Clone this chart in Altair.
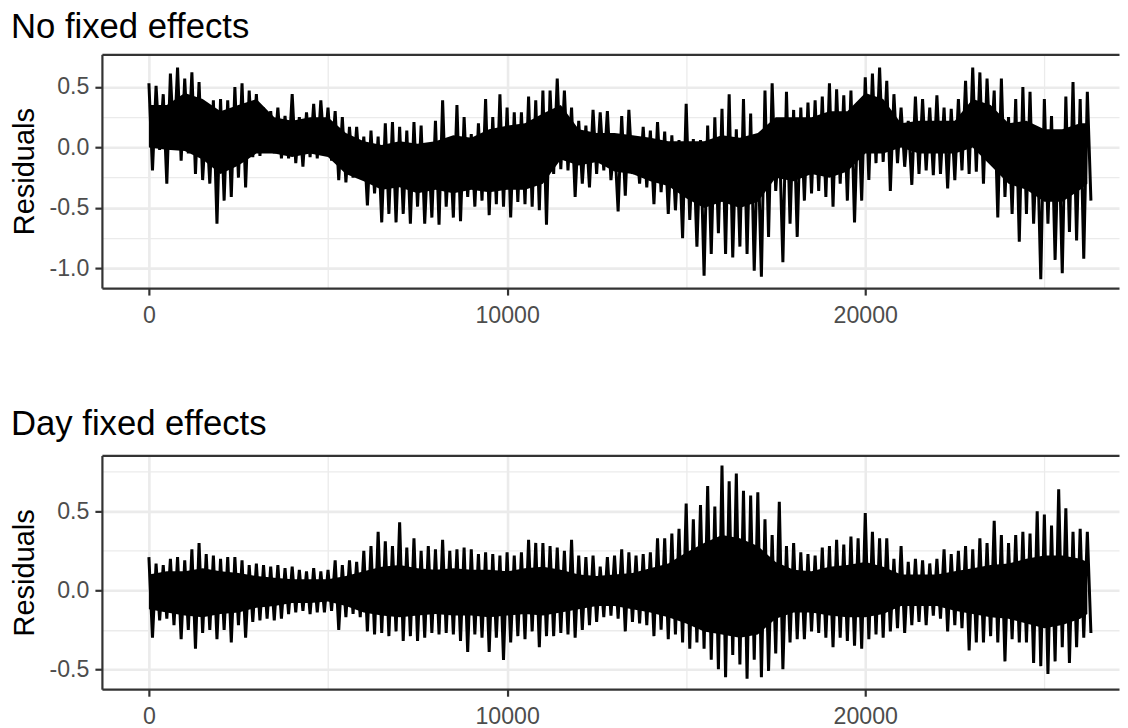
import altair as alt
import numpy as np
import pandas as pd

# Residual readings (upper / lower swing of the series), one pair every 200 observations
STEP = 100

p1_hi = [0.53, 0.51, 0.44, 0.61, 0.66, 0.57, 0.62, 0.54, 0.25, 0.39,
         0.40, 0.39, 0.50, 0.53, 0.47, 0.44, 0.33, 0.30, 0.33, 0.26,
         0.44, 0.25, 0.29, 0.36, 0.39, 0.33, 0.30, 0.25, 0.17, 0.17,
         0.09, 0.14, 0.09, 0.20, 0.21, 0.17, 0.14, 0.21, 0.18, 0.03,
         0.22, 0.39, 0.06, 0.35, 0.25, 0.11, 0.20, 0.40, 0.25, 0.44,
         0.33, 0.29, 0.29, 0.42, 0.39, 0.47, 0.47, 0.57, 0.47, 0.33,
         0.22, 0.18, 0.31, 0.29, 0.30, 0.06, 0.26, 0.31, 0.09, 0.17,
         0.14, 0.21, 0.13, 0.10, 0.06, 0.36, 0.07, 0.06, 0.18, 0.25,
         0.32, 0.44, 0.15, 0.40, 0.28, 0.06, 0.47, 0.53, 0.11, 0.46,
         0.31, 0.33, 0.37, 0.39, 0.42, 0.53, 0.48, 0.43, 0.47, 0.37,
         0.58, 0.61, 0.66, 0.55, 0.44, 0.33, 0.22, 0.42, 0.40, 0.33,
         0.43, 0.33, 0.32, 0.40, 0.55, 0.66, 0.62, 0.57, 0.47, 0.57,
         0.25, 0.40, 0.50, 0.46, 0.11, 0.40, 0.26, 0.14, 0.42, 0.54,
         0.40, 0.46]
p1_lo = [-0.19, -0.02, -0.30, 0.00, -0.11, -0.05, -0.22, -0.27, -0.30, -0.63,
         -0.44, -0.41, -0.25, -0.33, -0.08, -0.07, -0.03, -0.05, -0.09, -0.09,
         -0.13, -0.16, -0.08, -0.09, -0.05, -0.11, -0.27, -0.29, -0.25, -0.25,
         -0.48, -0.38, -0.62, -0.55, -0.62, -0.55, -0.63, -0.49, -0.63, -0.58,
         -0.64, -0.49, -0.58, -0.61, -0.41, -0.49, -0.44, -0.56, -0.47, -0.49,
         -0.58, -0.45, -0.47, -0.49, -0.52, -0.64, -0.22, -0.18, -0.19, -0.41,
         -0.30, -0.33, -0.22, -0.19, -0.27, -0.53, -0.40, -0.22, -0.30, -0.33,
         -0.47, -0.37, -0.55, -0.52, -0.75, -0.60, -0.82, -1.06, -0.88, -0.71,
         -0.88, -0.91, -0.82, -0.88, -1.02, -1.07, -0.74, -0.36, -0.95, -0.63,
         -0.74, -0.44, -0.38, -0.36, -0.41, -0.49, -0.30, -0.44, -0.62, -0.44,
         -0.27, -0.13, -0.12, -0.36, -0.13, -0.16, -0.31, -0.22, -0.19, -0.23,
         -0.22, -0.34, -0.27, -0.19, -0.22, -0.20, -0.30, -0.08, -0.58, -0.41,
         -0.55, -0.78, -0.55, -0.63, -1.09, -0.63, -0.93, -1.04, -0.70, -0.77,
         -0.92, -0.44]

p2_hi = [0.21, 0.17, 0.16, 0.20, 0.21, 0.19, 0.26, 0.30, 0.23, 0.22,
         0.20, 0.21, 0.21, 0.19, 0.16, 0.17, 0.16, 0.15, 0.16, 0.14,
         0.15, 0.13, 0.12, 0.14, 0.12, 0.13, 0.19, 0.16, 0.19, 0.18,
         0.25, 0.28, 0.37, 0.31, 0.28, 0.43, 0.27, 0.33, 0.25, 0.28,
         0.26, 0.32, 0.25, 0.26, 0.27, 0.26, 0.23, 0.24, 0.23, 0.22,
         0.24, 0.22, 0.24, 0.32, 0.30, 0.30, 0.28, 0.27, 0.25, 0.32,
         0.22, 0.21, 0.22, 0.15, 0.21, 0.22, 0.26, 0.24, 0.22, 0.23,
         0.24, 0.33, 0.33, 0.36, 0.39, 0.55, 0.45, 0.54, 0.66, 0.53,
         0.79, 0.69, 0.74, 0.63, 0.60, 0.62, 0.45, 0.35, 0.56, 0.28,
         0.30, 0.24, 0.23, 0.22, 0.27, 0.28, 0.32, 0.29, 0.34, 0.33,
         0.49, 0.37, 0.33, 0.33, 0.20, 0.28, 0.18, 0.20, 0.19, 0.17,
         0.20, 0.26, 0.23, 0.25, 0.28, 0.26, 0.33, 0.30, 0.44, 0.35,
         0.30, 0.35, 0.37, 0.36, 0.50, 0.48, 0.41, 0.64, 0.52, 0.37,
         0.39, 0.37]
p2_lo = [-0.30, -0.19, -0.18, -0.22, -0.31, -0.25, -0.37, -0.27, -0.25, -0.31,
         -0.25, -0.33, -0.22, -0.30, -0.20, -0.19, -0.18, -0.19, -0.18, -0.15,
         -0.14, -0.13, -0.15, -0.14, -0.14, -0.13, -0.25, -0.17, -0.15, -0.17,
         -0.26, -0.28, -0.27, -0.29, -0.26, -0.32, -0.29, -0.32, -0.30, -0.27,
         -0.28, -0.27, -0.28, -0.32, -0.39, -0.28, -0.30, -0.39, -0.30, -0.44,
         -0.33, -0.29, -0.31, -0.26, -0.36, -0.29, -0.29, -0.27, -0.28, -0.30,
         -0.25, -0.22, -0.20, -0.17, -0.16, -0.18, -0.26, -0.20, -0.21, -0.22,
         -0.29, -0.25, -0.31, -0.28, -0.33, -0.37, -0.33, -0.37, -0.44, -0.50,
         -0.55, -0.41, -0.47, -0.56, -0.44, -0.55, -0.51, -0.40, -0.50, -0.33,
         -0.31, -0.31, -0.26, -0.27, -0.30, -0.36, -0.30, -0.32, -0.35, -0.37,
         -0.31, -0.28, -0.30, -0.26, -0.24, -0.27, -0.22, -0.20, -0.22, -0.16,
         -0.18, -0.26, -0.22, -0.24, -0.38, -0.33, -0.33, -0.29, -0.33, -0.45,
         -0.31, -0.33, -0.33, -0.46, -0.48, -0.53, -0.45, -0.36, -0.46, -0.36,
         -0.30, -0.27]

# Dense core of each series (where the trace is solid black), read every 500 observations
core_x = list(range(0, 26001, 500)) + [26200]
p1_core_hi = [0.35, 0.35, 0.45, 0.40, 0.30, 0.35, 0.40, 0.25, 0.22, 0.25,
              0.25, 0.12, 0.05, 0.02, 0.05, 0.03, 0.05, 0.10, 0.08, 0.15,
              0.18, 0.20, 0.28, 0.35, 0.15, 0.12, 0.12, 0.10, 0.08, 0.05,
              0.05, 0.05, 0.10, 0.08, 0.12, 0.25, 0.25, 0.25, 0.30, 0.30,
              0.45, 0.40, 0.20, 0.22, 0.22, 0.22, 0.40, 0.35, 0.20, 0.22,
              0.15, 0.15, 0.20, 0.20]
p1_core_lo = [0.00, -0.02, -0.03, -0.10, -0.22, -0.15, -0.05, -0.05, -0.08, -0.05,
              -0.08, -0.22, -0.28, -0.35, -0.33, -0.38, -0.35, -0.38, -0.35, -0.37,
              -0.35, -0.35, -0.30, -0.10, -0.15, -0.12, -0.20, -0.22, -0.28, -0.32,
              -0.42, -0.50, -0.45, -0.50, -0.45, -0.25, -0.28, -0.22, -0.25, -0.20,
              -0.05, -0.05, 0.00, -0.05, -0.05, -0.05, 0.00, -0.15, -0.30, -0.35,
              -0.45, -0.45, -0.35, -0.30]
p2_core_hi = [0.10, 0.12, 0.12, 0.14, 0.12, 0.11, 0.09, 0.08, 0.07, 0.07,
              0.07, 0.09, 0.12, 0.15, 0.16, 0.14, 0.13, 0.14, 0.13, 0.13,
              0.12, 0.14, 0.15, 0.13, 0.10, 0.09, 0.10, 0.11, 0.14, 0.17,
              0.24, 0.30, 0.35, 0.33, 0.28, 0.18, 0.13, 0.12, 0.15, 0.16,
              0.18, 0.15, 0.10, 0.10, 0.10, 0.12, 0.14, 0.16, 0.17, 0.20,
              0.22, 0.22, 0.20, 0.18]
p2_core_lo = [-0.12, -0.14, -0.16, -0.17, -0.15, -0.14, -0.11, -0.10, -0.08, -0.08,
              -0.07, -0.10, -0.14, -0.16, -0.17, -0.16, -0.15, -0.16, -0.16, -0.17,
              -0.16, -0.15, -0.16, -0.14, -0.12, -0.10, -0.10, -0.12, -0.14, -0.17,
              -0.21, -0.26, -0.28, -0.30, -0.28, -0.18, -0.14, -0.14, -0.16, -0.17,
              -0.17, -0.15, -0.10, -0.10, -0.10, -0.13, -0.15, -0.17, -0.18, -0.21,
              -0.24, -0.22, -0.18, -0.15]

x_major = [0, 10000, 20000]
x_all = [0, 5000, 10000, 15000, 20000, 25000]
X_DOMAIN = [-1312, 27084]

FONT = "Liberation Sans"
DARK = "#333333"
GRID = "#EBEBEB"


def series(hi, lo):
    vals = []
    for h, l in zip(hi, lo):
        vals.append(h)
        vals.append(l)
    return pd.DataFrame({"obs": np.arange(len(vals)) * STEP, "resid": vals})


def core(chi, clo):
    return pd.DataFrame({"obs": core_x, "hi": chi, "lo": clo})


def panel(hi, lo, chi, clo, title, ydom, ymajor, yall, grid_test, title_offset):
    xs = alt.Scale(domain=X_DOMAIN, nice=False, zero=False)
    ys = alt.Scale(domain=ydom, nice=False, zero=False)
    df = series(hi, lo)
    base = alt.Chart(df)

    frame = base.mark_line(opacity=0).encode(
        x=alt.X("obs:Q", scale=xs, axis=alt.Axis(
            orient="top", values=x_all, labels=False, ticks=False, title=None,
            minExtent=0, maxExtent=0,
            grid=True, gridColor=GRID,
            gridWidth={"condition": {"test": "datum.value % 10000 === 0", "value": 2.6}, "value": 1.3},
            domain=True, domainColor=DARK, domainWidth=2.2)),
        y=alt.Y("resid:Q", scale=ys, axis=alt.Axis(
            orient="right", values=yall, labels=False, ticks=False, title=None,
            minExtent=0, maxExtent=0,
            domain=False, grid=True, gridColor=GRID,
            gridWidth={"condition": {"test": grid_test, "value": 2.6}, "value": 1.3})),
    )

    area = alt.Chart(core(chi, clo)).mark_area(color="black", opacity=1).encode(
        x=alt.X("obs:Q", scale=xs, axis=None),
        y=alt.Y("lo:Q", scale=ys, axis=None),
        y2="hi:Q",
    )

    line = base.mark_line(color="black", strokeWidth=3).encode(
        x=alt.X("obs:Q", scale=xs, axis=alt.Axis(
            orient="bottom", values=x_major, title=None, grid=False,
            domainColor=DARK, domainWidth=2.2, tickColor=DARK, tickWidth=2.2,
            tickSize=7, labelPadding=9, labelFontSize=23.2, labelColor="#4D4D4D",
            labelFont=FONT, format="d")),
        y=alt.Y("resid:Q", scale=ys, axis=alt.Axis(
            orient="left", values=ymajor, title="Residuals", grid=False,
            domainColor=DARK, domainWidth=2.2, tickColor=DARK, tickWidth=2.2,
            tickSize=7, labelPadding=6, labelFontSize=23.2, labelColor="#4D4D4D",
            labelFont=FONT,
            labelExpr="(datum.value < 0 ? '-' : '') + format(abs(datum.value), '.1f')",
            titleFont=FONT, titleFontSize=29, titleFontWeight="normal", titleColor="black",
            titleAngle=270, titleAlign="center", titleBaseline="alphabetic",
            titleX=-68, titleY=117)),
    )

    return alt.layer(frame, area, line).resolve_axis(x="independent", y="independent").properties(
        width=1018, height=234,
        title=alt.TitleParams(title, anchor="start", font=FONT, fontSize=34.7,
                              fontWeight="normal", color="black", offset=title_offset,
                              baseline="alphabetic"),
    )


major_test = "abs(datum.value * 2 - round(datum.value * 2)) < 0.001"

top = panel(p1_hi, p1_lo, p1_core_hi, p1_core_lo, "No fixed effects", [-1.163, 0.770],
            [-1.0, -0.5, 0.0, 0.5], [-1.0, -0.75, -0.5, -0.25, 0.0, 0.25, 0.5],
            major_test, -18)
bottom = panel(p2_hi, p2_lo, p2_core_hi, p2_core_lo, "Day fixed effects", [-0.626, 0.854],
               [-0.5, 0.0, 0.5], [-0.5, -0.25, 0.0, 0.25, 0.5, 0.75],
               major_test, -14)

chart = alt.vconcat(top, bottom, spacing=78.5).properties(
    padding={"left": 2, "top": 0, "right": 0, "bottom": 0},
    background="white",
).configure_view(stroke="transparent")

chart.save("out.html", embed_options={"renderer": "svg", "actions": False})
